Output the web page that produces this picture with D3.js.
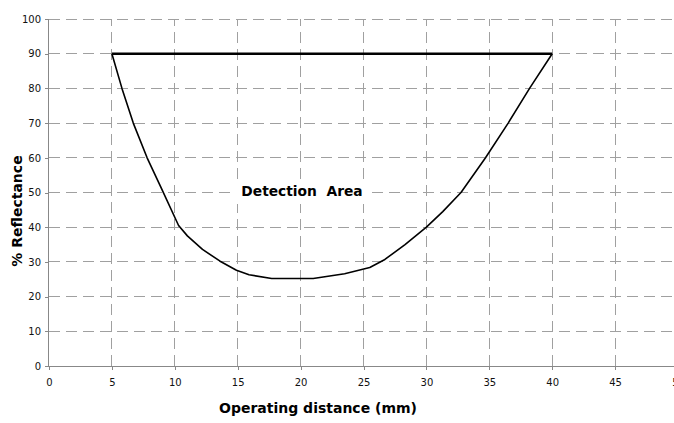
<!DOCTYPE html>
<html><head><meta charset="utf-8">
<script src="https://cdn.jsdelivr.net/npm/d3@7"></script>
<style>body{margin:0;background:#fff}svg{display:block}</style>
</head><body>
<script>
const xTicks = [0,5,10,15,20,25,30,35,40,45,50];
const yTicks = [0,10,20,30,40,50,60,70,80,90,100];
const curveX = [5, 5.8, 6.7, 7.8, 8.9, 10.3, 11.0, 12.2, 13.6, 14.9, 15.9, 17.7, 21, 23.5, 25.5, 26.7, 28.3, 30, 31.3, 32.75, 34.7, 36.5, 38.2, 40];
const curveY = [90, 80, 70, 60, 51.5, 40.5, 37.5, 33.6, 30.2, 27.6, 26.3, 25.2, 25.2, 26.6, 28.4, 30.7, 35, 40, 44.5, 50, 60, 70, 80, 90];
const topX = [5, 40];
const topY = [90, 90];
const areaLabel = "Detection\u00a0\u00a0Area";
const xTitle = "Operating distance (mm)";
const yTitle = "% Reflectance";

const W = 674, H = 423;
const svg = d3.select("body").append("svg").attr("width", W).attr("height", H);
const x = d3.scaleLinear().domain([0,50]).range([49,678]);
const y = d3.scaleLinear().domain([0,100]).range([366,19]);
const font = "Verdana, 'DejaVu Sans', sans-serif";

// grid
svg.append("g").selectAll("line").data(yTicks.filter(d=>d>0)).join("line")
  .attr("x1", x(0)).attr("x2", W).attr("y1", d=>y(d)).attr("y2", d=>y(d))
  .attr("stroke", "#a0a0a0").attr("stroke-width", 1).attr("stroke-dasharray", "11,6")
  .attr("shape-rendering","crispEdges");
svg.append("g").selectAll("line").data(xTicks.filter(d=>d>0)).join("line")
  .attr("y1", y(0)).attr("y2", y(100)).attr("x1", d=>x(d)).attr("x2", d=>x(d))
  .attr("stroke", "#a0a0a0").attr("stroke-width", 1).attr("stroke-dasharray", "11,6")
  .attr("shape-rendering","crispEdges");

// axes
const xa = svg.append("g").attr("transform", `translate(0,${y(0)})`)
  .call(d3.axisBottom(x).tickValues(xTicks).tickSize(4).tickPadding(9));
const ya = svg.append("g").attr("transform", `translate(${x(0)},0)`)
  .call(d3.axisLeft(y).tickValues(yTicks).tickSize(4).tickPadding(4));
[xa, ya].forEach(a => {
  a.select(".domain").attr("stroke", "#888").attr("shape-rendering","crispEdges");
  a.selectAll(".tick line").attr("stroke", "#888").attr("shape-rendering","crispEdges");
  a.selectAll("text").attr("font-family", font).attr("font-size", 10).attr("fill", "#111");
});
ya.select(".domain").attr("d", `M-0.5,${y(100)}V${y(0)}`);
xa.select(".domain").attr("d", `M${x(0)},0.5H${W}`);

// label with white background
const lbl = svg.append("g");
const t = lbl.append("text").attr("x", 302).attr("y", 196).attr("text-anchor","middle")
  .attr("font-family", font).attr("font-weight","bold").attr("font-size", 13.8).attr("fill","#000")
  .text(areaLabel);
const bb = t.node().getBBox();
lbl.insert("rect", "text").attr("x", bb.x-6).attr("y", 180).attr("width", bb.width+12).attr("height", 24).attr("fill", "#fff");

// curves
const line = d3.line().x(d=>x(d[0])).y(d=>y(d[1]));
svg.append("path").datum(curveX.map((v,i)=>[v, curveY[i]])).attr("d", line)
  .attr("fill","none").attr("stroke","#000").attr("stroke-width",1.6).attr("stroke-linejoin","round");
svg.append("path").datum(topX.map((v,i)=>[v, topY[i]])).attr("d", line)
  .attr("fill","none").attr("stroke","#000").attr("stroke-width",2.4);

// titles
svg.append("text").attr("x", 318).attr("y", 413).attr("text-anchor","middle")
  .attr("font-family", font).attr("font-weight","bold").attr("font-size", 14).text(xTitle);
svg.append("text").attr("transform", "translate(22,211) rotate(-90)").attr("text-anchor","middle")
  .attr("font-family", font).attr("font-weight","bold").attr("font-size", 14).text(yTitle);
</script>
</body></html>
